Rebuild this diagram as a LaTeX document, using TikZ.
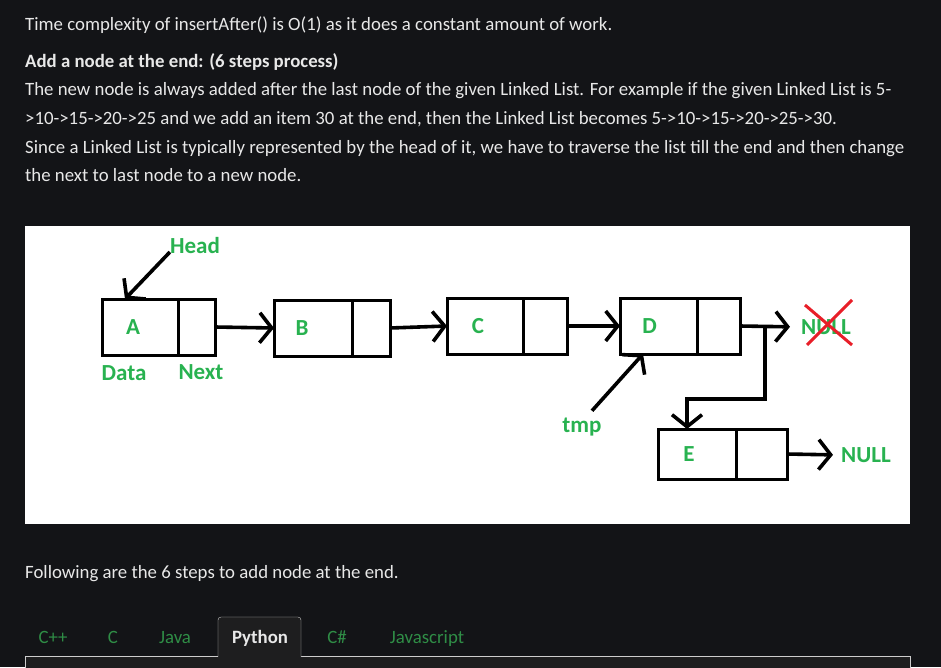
\documentclass[tikz,border=0pt]{standalone}
\usepackage{fontspec}
\setmainfont{Carlito}
\usetikzlibrary{arrows.meta,calc,positioning}

\definecolor{pagebg}{RGB}{19,20,23}
\definecolor{codebg}{RGB}{30,30,31}
\definecolor{pagefg}{RGB}{232,232,232}
\definecolor{tabgreen}{RGB}{47,141,70}
\definecolor{lblgreen}{RGB}{40,178,80}
\definecolor{crossred}{RGB}{232,30,40}
\definecolor{tabline}{RGB}{205,205,205}

\begin{document}
\begin{tikzpicture}[x=1pt,y=-1pt,
  pagetext/.style={anchor=base west,inner sep=0pt,text=pagefg,font=\fontsize{18.8}{22}\selectfont},
  cell/.style={draw=black,line width=3pt,minimum height=56pt,inner sep=0pt,outer sep=0pt},
  datacell/.style={cell,minimum width=77pt},
  nextcell/.style={cell,minimum width=40pt,anchor=west},
  lbl/.style={text=lblgreen,font=\fontsize{23}{26}\selectfont\bfseries,inner sep=0pt},
  ptr/.style={line width=3.6pt,-{Straight Barb[length=12pt,width=30pt,line width=3.6pt]}},
  cross/.style={crossred,line width=3pt},
  tab/.style={anchor=base,inner sep=0pt,text=tabgreen,font=\fontsize{18.8}{22}\selectfont}
]
	% Page background
	\fill[pagebg] (0,0) rectangle (941,667);
	\useasboundingbox (0,0) rectangle (941,667);
	
	% Text above the picture
	\node[pagetext] (l1) at (25,30) {Time complexity of insertAfter() is O(1) as it does a constant amount of work.};
	\node[pagetext,font=\fontsize{18.8}{22}\selectfont\bfseries] (title) at (25,67) {Add a node at the end: (6 steps process)};
	\node[pagetext] (p1) at (25,95) {The new node is always added after the last node of the given Linked List. For example if the given Linked List is 5-};
	\node[pagetext] (p2) at (25,124) {>10->15->20->25 and we add an item 30 at the end, then the Linked List becomes 5->10->15->20->25->30.};
	\node[pagetext] (p3) at (25,153) {Since a Linked List is typically represented by the head of it, we have to traverse the list till the end and then change};
	\node[pagetext] (p4) at (25,181) {the next to last node to a new node.};
	
	% The picture itself
	\fill[white] (25,226) rectangle (910,524);
	
	% List nodes
	\node[datacell,minimum width=76pt,label={[lbl,xshift=-7pt]center:A}] (A) at (140,327) {};
	\node[nextcell,minimum width=37pt] (An) at (A.east) {};
	\node[datacell,minimum width=78pt,label={[lbl,xshift=-11pt]center:B}] (B) at (313,328) {};
	\node[nextcell,minimum width=38pt] (Bn) at (B.east) {};
	\node[datacell,minimum width=76pt,label={[lbl,xshift=-7pt]center:C}] (C) at (485,326) {};
	\node[nextcell,minimum width=44pt] (Cn) at (C.east) {};
	\node[datacell,label={[lbl,xshift=-9pt]center:D}] (D) at (658.5,326) {};
	\node[nextcell,minimum width=43pt] (Dn) at (D.east) {};
	\node[datacell,minimum width=78pt,minimum height=50pt,label={[lbl,xshift=-8pt]center:E}] (E) at (697,454) {};
	\node[nextcell,minimum width=51pt,minimum height=50pt] (En) at (E.east) {};
	
	% Labels
	\node[lbl] (head) at (195,246) {Head};
	\node[lbl] (datalbl) at (124,373) {Data};
	\node[lbl] (nextlbl) at (201,372) {Next};
	\node[lbl] (tmp) at (582,427) {tmp};
	\node[lbl] (nullD) at (826,327) {NULL};
	\node[lbl] (nullE) at (866,455) {NULL};
	
	% Pointers
	\draw[ptr] ([yshift=-6pt]head.west) -- ([xshift=23pt]A.north west);
	\draw[ptr] (An.east) -- (B.west);
	\draw[ptr] (Bn.east) -- (C.west);
	\draw[ptr] (Cn.east) -- (D.west);
	\draw[ptr,shorten >=11pt] (Dn.east) -- (nullD.west);
	\draw[ptr] ([xshift=10pt,yshift=7pt]tmp.north) -- ([xshift=23pt]D.south west);
	\coordinate (fork) at ($(Dn.east)+(25,0)$);
	\draw[ptr] (fork) -- ++(0,73) -| ([xshift=-10pt]E.north);
	\draw[ptr,shorten >=8pt] (En.east) -- (nullE.west);
	
	% Cross out the old NULL
	\draw[cross] ($(nullD)+(-21,-22)$) -- ($(nullD)+(26,18)$);
	\draw[cross] ($(nullD)+(-19,18)$) -- ($(nullD)+(26,-27)$);
	
	% Text below the picture
	\node[pagetext] (l2) at (25,578) {Following are the 6 steps to add node at the end.};
	
	% Code box and tabs
	\fill[codebg] (25,656) rectangle (910,668);
	\draw[tabline] (25,668) -- (25,656) -- (218,656);
	\draw[tabline] (301,656) -- (910,656) -- (910,668);
	\filldraw[fill=codebg,draw=tabline,rounded corners=3pt] (218,657) -- (218,617) -- (301,617) -- (301,657);
	\node[tab] (tcpp) at (53,643) {C++};
	\node[tab] (tc) at (113,643) {C};
	\node[tab] (tjava) at (175,643) {Java};
	\node[tab,text=pagefg,font=\fontsize{18.8}{22}\selectfont\bfseries] (tpy) at (260,643) {Python};
	\node[tab] (tcs) at (337,643) {C\#};
	\node[tab] (tjs) at (427,643) {Javascript};
	
\end{tikzpicture}
\end{document}
